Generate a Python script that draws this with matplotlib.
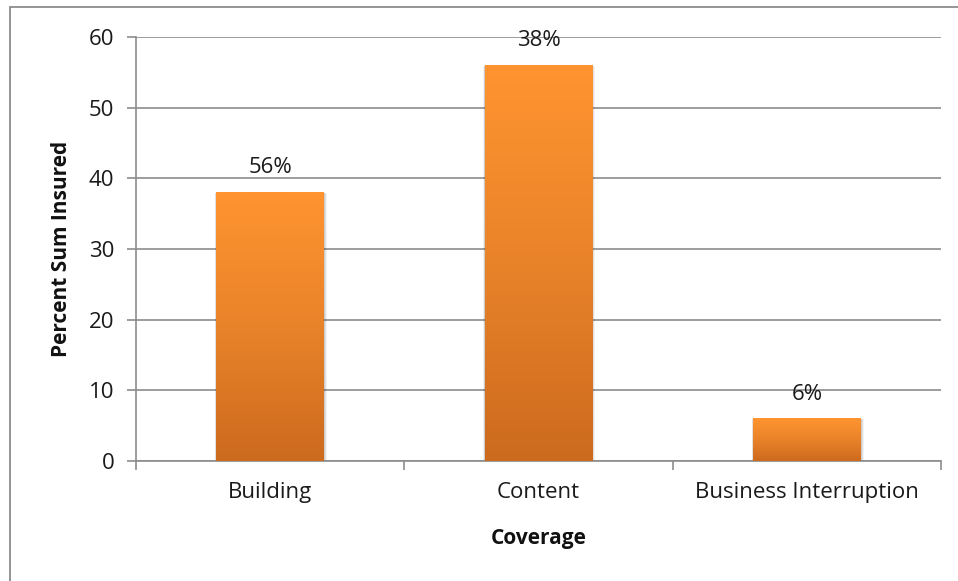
import matplotlib
matplotlib.use("Agg")
import matplotlib.pyplot as plt
import numpy as np
from matplotlib.colors import LinearSegmentedColormap
from matplotlib.patches import Rectangle

categories = ["Building", "Content", "Business Interruption"]
values = [38, 56, 6]
value_labels = ["56%", "38%", "6%"]
y_ticks = [0, 10, 20, 30, 40, 50, 60]

plt.rcParams["font.family"] = ["Open Sans", "DejaVu Sans"]
FS = 16

W, H = 958, 581
fig = plt.figure(figsize=(W / 100, H / 100), dpi=100)
fig.patch.set_facecolor("white")

# outer chart-area frame (its right and bottom edges fall outside the canvas)
fig.add_artist(Rectangle((10 / W, -0.05), 1.2, 1 - 7.5 / H + 0.05,
                         transform=fig.transFigure, fill=False,
                         edgecolor="#8c8c8c", linewidth=1.3))

ax = fig.add_axes([136 / W, 1 - 461 / H, (941 - 136) / W, (461 - 37) / H])
x = np.arange(len(categories))
bars = ax.bar(x, values, width=0.4, color="none", zorder=3)

grad = LinearSegmentedColormap.from_list("orange_grad", ["#cc6a1e", "#e9832a", "#ff9430"])
g = np.linspace(0, 1, 256).reshape(-1, 1)
for b in bars:
    x0, y0 = b.get_x(), b.get_y()
    w, h = b.get_width(), b.get_height()
    # soft drop shadow
    for k, a in zip([0.012, 0.008, 0.004], [0.05, 0.07, 0.09]):
        ax.add_patch(Rectangle((x0 - k * 0.5, y0 - k * 20), w + k * 1.5, h + k * 10,
                               facecolor="black", alpha=a, edgecolor="none", zorder=2))
    ax.imshow(g, cmap=grad, aspect="auto", extent=(x0, x0 + w, y0, y0 + h),
              origin="lower", zorder=3, interpolation="bilinear")

for xi, v, lab in zip(x, values, value_labels):
    ax.text(xi, v + 2.7, lab, ha="center", va="baseline", fontsize=FS, color="#1a1a1a", zorder=5)

ax.set_xlim(-0.5, len(categories) - 0.5)
ax.set_ylim(0, 60)
ax.set_yticks(y_ticks)
ax.set_xticks(x)
ax.set_xticklabels(categories)
ax.set_xticks(np.arange(-0.5, len(categories)), minor=True)
ax.tick_params(axis="x", which="major", length=0, pad=15, labelsize=FS, colors="#1a1a1a")
ax.tick_params(axis="x", which="minor", length=6.5, width=1.2, color="#8c8c8c", direction="out")
ax.tick_params(axis="y", length=6.5, width=1.2, color="#8c8c8c", pad=9, labelsize=FS, labelcolor="#1a1a1a")

ax.yaxis.grid(True, color="#8c8c8c", linewidth=1.2, zorder=0)
ax.set_axisbelow(True)
for s in ["top", "right"]:
    ax.spines[s].set_visible(False)
for s in ["left", "bottom"]:
    ax.spines[s].set_color("#8c8c8c")
    ax.spines[s].set_linewidth(1.2)

ax.set_xlabel("Coverage", fontsize=15, fontweight="bold", labelpad=18, color="#111111")
ax.set_ylabel("Percent Sum Insured", fontsize=15, fontweight="bold", labelpad=12, color="#111111")

fig.savefig("out.png", dpi=100, facecolor="white")
